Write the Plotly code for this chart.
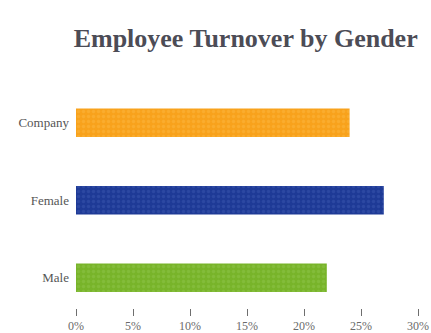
import plotly.graph_objects as go

# Turnover rate per group
groups = ["Male", "Female", "Company"]
turnover = [0.22, 0.27, 0.24]
bar_colors = ["#78B42A", "#1E3A96", "#F8A21C"]
dot_colors = ["#8EC449", "#3A55AE", "#FBB540"]
tick_vals = [0, 0.05, 0.10, 0.15, 0.20, 0.25, 0.30]
tick_text = ["0%", "5%", "10%", "15%", "20%", "25%", "30%"]

fig = go.Figure()
for g, v, c, d in zip(groups, turnover, bar_colors, dot_colors):
    fig.add_trace(
        go.Bar(
            x=[v],
            y=[g],
            orientation="h",
            width=0.37,
            marker=dict(
                color=c,
                line=dict(width=0),
                pattern=dict(
                    shape=".",
                    fillmode="overlay",
                    bgcolor=c,
                    fgcolor=d,
                    size=5,
                    solidity=0.35,
                ),
            ),
            hoverinfo="skip",
        )
    )

fig.update_layout(
    width=431,
    height=333,
    margin=dict(l=76, r=13, t=84, b=25),
    paper_bgcolor="white",
    plot_bgcolor="white",
    showlegend=False,
    barmode="overlay",
    title=dict(
        text="<b>Employee Turnover by Gender</b>",
        x=0.57,
        xanchor="center",
        y=0.885,
        yanchor="middle",
        font=dict(family="Liberation Serif", size=26, color="#4C4C56"),
    ),
    xaxis=dict(
        range=[0, 0.30],
        tickvals=tick_vals,
        ticktext=tick_text,
        ticks="outside",
        ticklen=7,
        tickwidth=1,
        tickcolor="#6E6E6E",
        ticklabelstandoff=0,
        showgrid=False,
        zeroline=False,
        showline=False,
        automargin=False,
        tickfont=dict(family="Liberation Serif", size=12, color="#6A6A6A"),
    ),
    yaxis=dict(
        categoryorder="array",
        categoryarray=groups,
        range=[-0.39, 2.5],
        showgrid=False,
        zeroline=False,
        showline=False,
        automargin=False,
        ticks="",
        ticklabelstandoff=6,
        tickfont=dict(family="Liberation Serif", size=13, color="#555555"),
    ),
)

fig.write_html("out.html")
